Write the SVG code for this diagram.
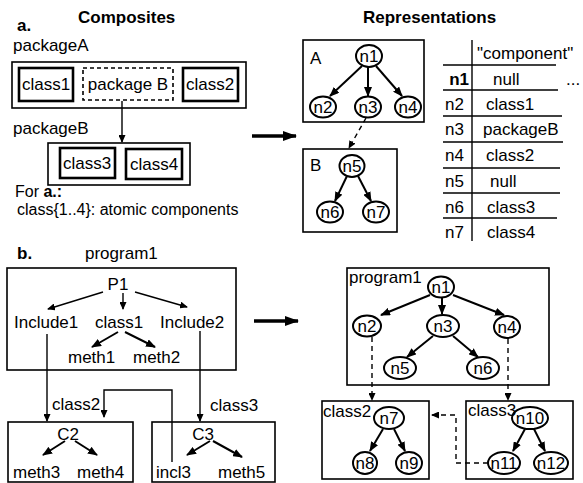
<svg xmlns="http://www.w3.org/2000/svg" width="583" height="483" viewBox="0 0 583 483">
<defs>
<marker id="ah" markerUnits="userSpaceOnUse" markerWidth="10" markerHeight="8" refX="9" refY="4" orient="auto"><path d="M0,0 L10,4 L0,8 Z" fill="#000"/></marker>
<marker id="ahs" markerUnits="userSpaceOnUse" markerWidth="8" markerHeight="7" refX="7" refY="3.5" orient="auto"><path d="M0,0 L8,3.5 L0,7 Z" fill="#000"/></marker>
<marker id="big" markerUnits="userSpaceOnUse" markerWidth="14" markerHeight="10" refX="13" refY="5" orient="auto"><path d="M0,0 L14,5 L0,10 Z" fill="#000"/></marker>
</defs>
<style>
text{font-family:"Liberation Sans",Arial,sans-serif;font-size:17px;fill:#000}
.b{font-weight:bold}
.c{text-anchor:middle}
.n{font-size:16px}
.box{fill:none;stroke:#000;stroke-width:1.6}
.cls{fill:none;stroke:#000;stroke-width:2.6}
.dbox{fill:none;stroke:#000;stroke-width:1.6;stroke-dasharray:4,3}
ellipse{fill:none;stroke:#000;stroke-width:2}
.e{stroke:#000;stroke-width:2;fill:none;marker-end:url(#ah)}
.t{stroke:#000;stroke-width:1.4;fill:none;marker-end:url(#ahs)}
.d{stroke:#000;stroke-width:1.4;fill:none;stroke-dasharray:5,4;marker-end:url(#ahs)}
.bg{stroke:#000;stroke-width:3.5;fill:none;marker-end:url(#big)}
.tl{stroke:#000;stroke-width:1.4}
</style>

<g id="titles">
<text class="b" x="17" y="31">a.</text>
<text class="b" x="78" y="23">Composites</text>
<text class="b" x="363" y="23">Representations</text>
<text class="b" x="17" y="259">b.</text>
</g>

<g id="packageA">
<text x="13" y="51">packageA</text>
<rect class="box" x="12" y="62" width="234" height="46"/>
</g>
<g id="class1a"><rect class="cls" x="19" y="68" width="54" height="33"/><text class="c" x="46" y="90">class1</text></g>
<g id="packageBref"><rect class="dbox" x="83" y="68" width="90" height="32"/><text class="c" x="128" y="90">package B</text></g>
<g id="class2a"><rect class="cls" x="183" y="68" width="55" height="33"/><text class="c" x="210" y="90">class2</text></g>
<g id="packageB">
<text x="13" y="134">packageB</text>
<rect class="box" x="48" y="143" width="142" height="42"/>
</g>
<g id="class3a"><rect class="cls" x="60" y="148" width="55" height="30"/><text class="c" x="87" y="169">class3</text></g>
<g id="class4a"><rect class="cls" x="126" y="149" width="56" height="30"/><text class="c" x="154" y="170">class4</text></g>
<g id="note">
<text class="n" x="15" y="197">For <tspan class="b">a.:</tspan></text>
<text class="n" x="17" y="215">class{1..4}: atomic components</text>
</g>

<g id="reprA">
<rect class="box" x="303" y="40" width="121" height="82"/>
<text x="310" y="64">A</text>
</g>
<g id="a_n1"><ellipse cx="369" cy="56" rx="13" ry="11"/><text class="c" x="369" y="62">n1</text></g>
<g id="a_n2"><ellipse cx="323" cy="107" rx="13" ry="10.5"/><text class="c" x="323" y="113">n2</text></g>
<g id="a_n3"><ellipse cx="368" cy="107" rx="13" ry="10.5"/><text class="c" x="368" y="113">n3</text></g>
<g id="a_n4"><ellipse cx="408" cy="107" rx="13" ry="10.5"/><text class="c" x="408" y="113">n4</text></g>
<g id="reprB">
<rect class="box" x="303" y="149" width="94" height="83"/>
<text x="310" y="171">B</text>
</g>
<g id="b_n5"><ellipse cx="352" cy="166" rx="12.5" ry="11"/><text class="c" x="352" y="172">n5</text></g>
<g id="b_n6"><ellipse cx="330" cy="212" rx="13" ry="10.5"/><text class="c" x="330" y="218">n6</text></g>
<g id="b_n7"><ellipse cx="376" cy="212" rx="13" ry="10.5"/><text class="c" x="376" y="218">n7</text></g>

<g id="table">
<line class="tl" x1="472" y1="40" x2="472" y2="241"/>
<line class="tl" x1="443" y1="65" x2="556" y2="65"/>
<line class="tl" x1="443" y1="90" x2="558" y2="90"/>
<line class="tl" x1="443" y1="116" x2="562" y2="116"/>
<line class="tl" x1="443" y1="142" x2="563" y2="142"/>
<line class="tl" x1="443" y1="168" x2="560" y2="168"/>
<line class="tl" x1="443" y1="193" x2="560" y2="193"/>
<line class="tl" x1="443" y1="218" x2="557" y2="218"/>
<text x="477" y="59">"component"</text>
<text class="b" x="469" y="85" text-anchor="end">n1</text><text x="493" y="85">null</text><text x="566" y="85">...</text>
<text x="445" y="110">n2</text><text x="486" y="110">class1</text>
<text x="445" y="135">n3</text><text x="483" y="135">packageB</text>
<text x="445" y="161">n4</text><text x="486" y="161">class2</text>
<text x="445" y="187">n5</text><text x="490" y="187">null</text>
<text x="445" y="213">n6</text><text x="487" y="213">class3</text>
<text x="445" y="238">n7</text><text x="487" y="238">class4</text>
</g>

<g id="program1L">
<text x="85" y="259">program1</text>
<rect class="box" x="7" y="268" width="229" height="102"/>
<text class="c" x="118" y="290">P1</text>
<text x="14" y="328">Include1</text>
<text x="95" y="328">class1</text>
<text x="160" y="328">Include2</text>
<text x="68" y="363">meth1</text>
<text x="133" y="363">meth2</text>
</g>
<g id="C2L">
<rect class="box" x="8" y="422" width="125" height="60"/>
<text class="c" x="68" y="440">C2</text>
<text x="13" y="478">meth3</text>
<text x="77" y="478">meth4</text>
</g>
<g id="C3L">
<rect class="box" x="152" y="422" width="123" height="60"/>
<text class="c" x="203" y="440">C3</text>
<text x="156" y="478">incl3</text>
<text x="218" y="478">meth5</text>
</g>

<g id="program1R">
<rect class="box" x="347" y="268" width="202" height="117"/>
<text x="349" y="283">program1</text>
</g>
<g id="r_n1"><ellipse cx="441" cy="287" rx="13" ry="10.5"/><text class="c" x="441" y="293">n1</text></g>
<g id="r_n2"><ellipse cx="367" cy="326" rx="14" ry="10.5"/><text class="c" x="367" y="332">n2</text></g>
<g id="r_n3"><ellipse cx="443" cy="326" rx="16" ry="11"/><text class="c" x="443" y="332">n3</text></g>
<g id="r_n4"><ellipse cx="507" cy="327" rx="13" ry="11"/><text class="c" x="507" y="333">n4</text></g>
<g id="r_n5"><ellipse cx="400" cy="368" rx="16" ry="11"/><text class="c" x="400" y="374">n5</text></g>
<g id="r_n6"><ellipse cx="483" cy="368" rx="16" ry="11"/><text class="c" x="483" y="374">n6</text></g>
<g id="class2R">
<rect class="box" x="322" y="401" width="107" height="78"/>
<text x="323" y="417">class2</text>
</g>
<g id="r_n7"><ellipse cx="389" cy="418" rx="15" ry="11"/><text class="c" x="389" y="424">n7</text></g>
<g id="r_n8"><ellipse cx="365" cy="463" rx="12" ry="11"/><text class="c" x="365" y="469">n8</text></g>
<g id="r_n9"><ellipse cx="409" cy="463" rx="13" ry="11"/><text class="c" x="409" y="469">n9</text></g>
<g id="class3R">
<rect class="box" x="466" y="401" width="107" height="78"/>
<text x="468" y="416">class3</text>
</g>
<g id="r_n10"><ellipse cx="530" cy="418" rx="18" ry="11"/><text class="c" x="530" y="424">n10</text></g>
<g id="r_n11"><ellipse cx="504" cy="463" rx="16" ry="11"/><text class="c" x="504" y="469">n11</text></g>
<g id="r_n12"><ellipse cx="551" cy="463" rx="17" ry="11"/><text class="c" x="551" y="469">n12</text></g>

<g id="connectors">
<line class="t" x1="122" y1="101" x2="122" y2="142"/>
<line class="bg" x1="252" y1="136" x2="296" y2="136"/>
<line class="e" x1="362" y1="66" x2="330" y2="96"/>
<line class="e" x1="368" y1="67" x2="368" y2="96"/>
<line class="e" x1="376" y1="66" x2="402" y2="96"/>
<line class="d" x1="366" y1="118" x2="349" y2="148"/>
<line class="e" x1="347" y1="176" x2="335" y2="201"/>
<line class="e" x1="358" y1="176" x2="371" y2="201"/>
<line class="t" x1="103" y1="292" x2="48" y2="309"/>
<line class="t" x1="123" y1="293" x2="123" y2="309"/>
<line class="t" x1="135" y1="292" x2="187" y2="307"/>
<line class="e" x1="118" y1="332" x2="92" y2="347"/>
<line class="e" x1="125" y1="332" x2="155" y2="347"/>
<line class="t" x1="47" y1="334" x2="47" y2="421"/>
<line class="t" x1="200" y1="331" x2="200" y2="421"/>
<polyline class="t" points="172,462 172,390 104,390 104,417"/>
<text x="52" y="410">class2</text>
<text x="210" y="411">class3</text>
<line class="e" x1="65" y1="441" x2="43" y2="455"/>
<line class="e" x1="75" y1="441" x2="97" y2="455"/>
<line class="e" x1="210" y1="441" x2="187" y2="455"/>
<line class="e" x1="213" y1="441" x2="242" y2="457"/>
<line class="bg" x1="254" y1="321" x2="298" y2="321"/>
<line class="e" x1="430" y1="295" x2="381" y2="315"/>
<line class="e" x1="442" y1="297" x2="442" y2="314"/>
<line class="e" x1="453" y1="295" x2="504" y2="315"/>
<line class="e" x1="433" y1="336" x2="407" y2="357"/>
<line class="e" x1="453" y1="336" x2="478" y2="357"/>
<line class="d" x1="372" y1="337" x2="372" y2="400"/>
<line class="d" x1="508" y1="339" x2="508" y2="400"/>
<polyline class="d" points="488,463 456,463 456,415 432,415"/>
<line class="e" x1="383" y1="429" x2="370" y2="451"/>
<line class="e" x1="394" y1="429" x2="405" y2="451"/>
<line class="e" x1="525" y1="429" x2="513" y2="451"/>
<line class="e" x1="534" y1="429" x2="545" y2="451"/>
</g>
</svg>
